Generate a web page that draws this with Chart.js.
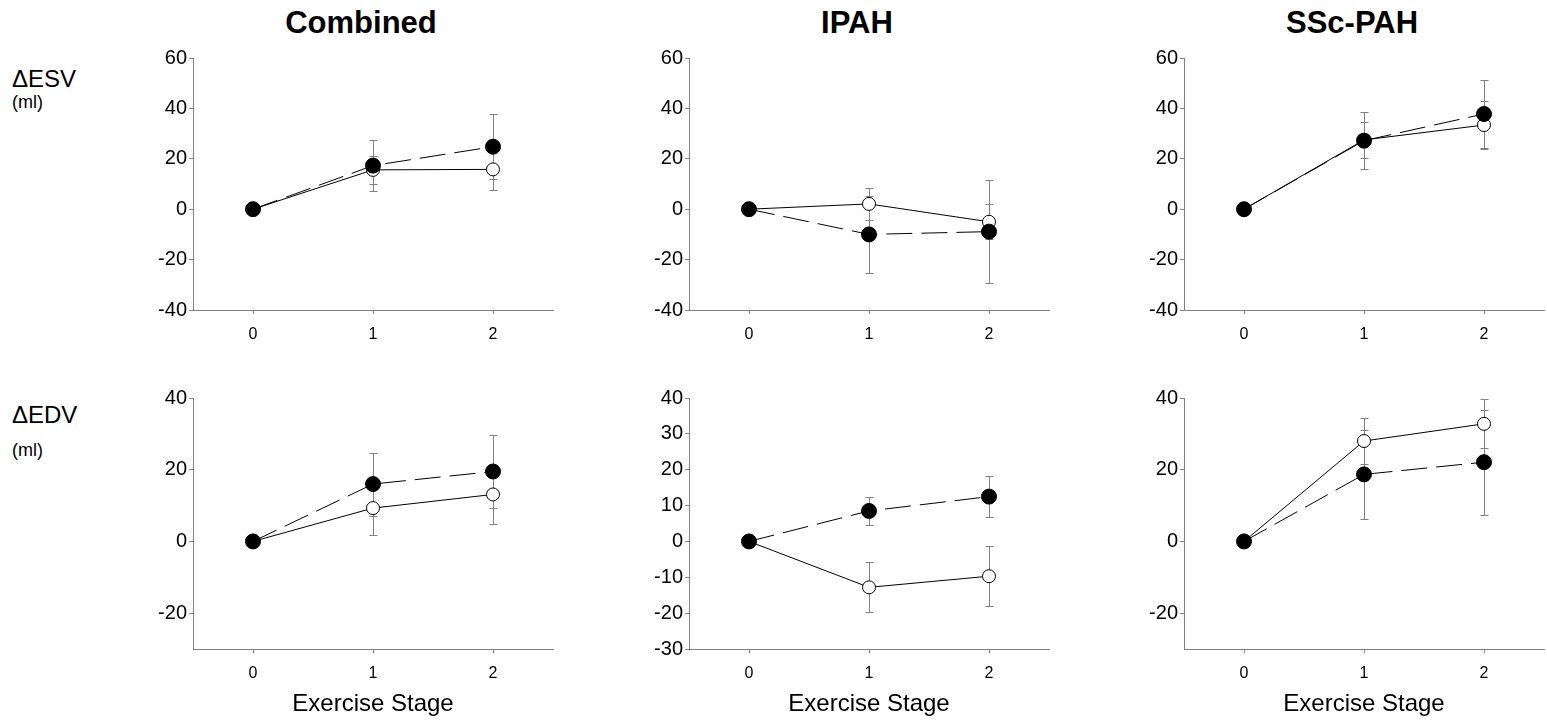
<!DOCTYPE html>
<html lang="en">
    <head>
        <meta charset="UTF-8">
        <title>ESV / EDV by exercise stage</title>
        <style>
            body { margin: 0; background: #fff; font-family: "Liberation Sans", Arial, sans-serif; }
            .pagina { position: relative; width: 1547px; height: 728px; overflow: hidden; }
            .titulo { position: absolute; top: 6px; font-weight: bold; font-size: 31px; line-height: 34px; transform: translateX(-50%); white-space: nowrap; }
            .rotulo { position: absolute; left: 12px; font-size: 24px; line-height: 26px; }
            .unidade { position: absolute; left: 12px; font-size: 18px; line-height: 20px; }
            canvas { position: absolute; }
        </style>
    </head>

    <body>
        <div class="pagina">
            <div class="titulo" style="left:361px">Combined</div>
            <div class="titulo" style="left:857px">IPAH</div>
            <div class="titulo" style="left:1352px">SSc-PAH</div>

            <div class="rotulo" style="top:66px">&Delta;ESV</div>
            <div class="unidade" style="top:92px">(ml)</div>
            <div class="rotulo" style="top:402px">&Delta;EDV</div>
            <div class="unidade" style="top:440px">(ml)</div>

            <canvas id="esvCombined" width="423" height="310" style="left:133px; top:40px"></canvas>
            <canvas id="esvIpah" width="423" height="310" style="left:629px; top:40px"></canvas>
            <canvas id="esvSsc" width="423" height="310" style="left:1124px; top:40px"></canvas>
            <canvas id="edvCombined" width="423" height="344" style="left:133px; top:380px"></canvas>
            <canvas id="edvIpah" width="423" height="344" style="left:629px; top:380px"></canvas>
            <canvas id="edvSsc" width="423" height="344" style="left:1124px; top:380px"></canvas>
        </div>

<script src="https://cdn.jsdelivr.net/npm/chart.js"></script>

<script>
    // exercise stages
    const stages = [0, 1, 2];

    // tick labels
    const esvTicks = [-40, -20, 0, 20, 40, 60];
    const edvTicks = [-20, 0, 20, 40];
    const edvIpahTicks = [-30, -20, -10, 0, 10, 20, 30, 40];

    // ESV (ml) - open circles (solid line) and filled circles (dashed line), with error bars
    const esvCombinedOpen = [0, 15.6, 15.8];
    const esvCombinedOpenErr = [0, 5.5, 8.0];
    const esvCombinedFilled = [0, 17.3, 24.8];
    const esvCombinedFilledErr = [0, 10.0, 12.8];

    const esvIpahOpen = [0, 2.1, -5.0];
    const esvIpahOpenErr = [0, 6.3, 7.0];
    const esvIpahFilled = [0, -10.0, -8.9];
    const esvIpahFilledErr = [0, 15.4, 20.5];

    const esvSscOpen = [0, 27.5, 33.4];
    const esvSscOpenErr = [0, 7.0, 9.5];
    const esvSscFilled = [0, 27.2, 37.8];
    const esvSscFilledErr = [0, 11.3, 13.5];

    // EDV (ml)
    const edvCombinedOpen = [0, 9.3, 13.1];
    const edvCombinedOpenErr = [0, 7.5, 8.1];
    const edvCombinedFilled = [0, 16.0, 19.5];
    const edvCombinedFilledErr = [0, 8.8, 10.2];

    const edvIpahOpen = [0, -12.8, -9.7];
    const edvIpahOpenErr = [0, 7.0, 8.3];
    const edvIpahFilled = [0, 8.5, 12.5];
    const edvIpahFilledErr = [0, 4.0, 5.8];

    const edvSscOpen = [0, 28.0, 32.8];
    const edvSscOpenErr = [0, 6.4, 6.8];
    const edvSscFilled = [0, 18.7, 22.1];
    const edvSscFilledErr = [0, 12.4, 14.6];

    const fonte = '"Liberation Sans", Arial, sans-serif';
    const cinza = '#808080';

    // barras de erro desenhadas antes dos pontos, para ficarem por baixo
    const errorBars = {
        id: 'errorBars',
        beforeDatasetsDraw(chart) {
            const ctx = chart.ctx;
            const xs = chart.scales.x;
            const ys = chart.scales.y;
            ctx.save();
            ctx.strokeStyle = cinza;
            ctx.lineWidth = 1;
            ctx.setLineDash([]);
            chart.data.datasets.forEach(ds => {
                ds.data.forEach((p, i) => {
                    const e = ds.errors[i];
                    if (!e) return;
                    const px = Math.round(xs.getPixelForValue(p.x)) + 0.5;
                    const top = Math.round(ys.getPixelForValue(p.y + e)) + 0.5;
                    const bot = Math.round(ys.getPixelForValue(p.y - e)) + 0.5;
                    ctx.beginPath();
                    ctx.moveTo(px, top);
                    ctx.lineTo(px, bot);
                    ctx.moveTo(px - 4, top);
                    ctx.lineTo(px + 4, top);
                    ctx.moveTo(px - 4, bot);
                    ctx.lineTo(px + 4, bot);
                    ctx.stroke();
                });
            });
            ctx.restore();
        }
    };

    function pontos(valores) {
        return stages.map((s, i) => ({ x: s, y: valores[i] }));
    }

    function plotarPainel(elementId, filled, filledErr, open, openErr, yMin, yMax, yTicks, comTitulo) {
        const ctx = document.getElementById(elementId).getContext('2d');
        const alturaX = comTitulo ? 75 : 40;

        new Chart(ctx, {
            type: 'line',
            data: {
                datasets: [
                    {
                        data: pontos(filled),
                        errors: filledErr,
                        borderColor: '#000',
                        borderWidth: 1,
                        borderDash: [26, 9],
                        pointRadius: 7.5,
                        pointBackgroundColor: '#000',
                        pointBorderColor: '#000',
                        pointBorderWidth: 1,
                        tension: 0
                    },
                    {
                        data: pontos(open),
                        errors: openErr,
                        borderColor: '#000',
                        borderWidth: 1,
                        pointRadius: 6.5,
                        pointBackgroundColor: '#fff',
                        pointBorderColor: '#000',
                        pointBorderWidth: 1,
                        tension: 0
                    }
                ]
            },
            options: {
                responsive: false,
                animation: false,
                events: [],
                layout: { autoPadding: false, padding: { top: 18, right: 3, left: 0, bottom: 0 } },
                plugins: { legend: { display: false }, tooltip: { enabled: false } },
                scales: {
                    x: {
                        type: 'linear',
                        min: -0.5,
                        max: 2.5,
                        afterBuildTicks: s => { s.ticks = stages.map(v => ({ value: v })); },
                        afterFit: s => { s.height = alturaX; s.paddingLeft = 0; s.paddingRight = 0; },
                        border: { color: cinza, width: 1 },
                        grid: { drawOnChartArea: false, tickLength: 4, color: cinza },
                        ticks: { color: '#000', padding: 11, font: { family: fonte, size: 16 } },
                        title: {
                            display: comTitulo,
                            text: 'Exercise Stage',
                            color: '#000',
                            padding: { top: 0, bottom: 5 },
                            font: { family: fonte, size: 24 }
                        }
                    },
                    y: {
                        min: yMin,
                        max: yMax,
                        afterBuildTicks: s => { s.ticks = yTicks.map(v => ({ value: v })); },
                        afterFit: s => { s.width = 60; s.paddingTop = 0; s.paddingBottom = 0; },
                        border: { color: cinza, width: 1 },
                        grid: { drawOnChartArea: false, tickLength: 4, color: cinza },
                        ticks: { color: '#000', padding: 2, font: { family: fonte, size: 20 } }
                    }
                }
            },
            plugins: [errorBars]
        });
    }

    plotarPainel('esvCombined', esvCombinedFilled, esvCombinedFilledErr, esvCombinedOpen, esvCombinedOpenErr, -40, 60, esvTicks, false);
    plotarPainel('esvIpah', esvIpahFilled, esvIpahFilledErr, esvIpahOpen, esvIpahOpenErr, -40, 60, esvTicks, false);
    plotarPainel('esvSsc', esvSscFilled, esvSscFilledErr, esvSscOpen, esvSscOpenErr, -40, 60, esvTicks, false);
    plotarPainel('edvCombined', edvCombinedFilled, edvCombinedFilledErr, edvCombinedOpen, edvCombinedOpenErr, -30, 40, edvTicks, true);
    plotarPainel('edvIpah', edvIpahFilled, edvIpahFilledErr, edvIpahOpen, edvIpahOpenErr, -30, 40, edvIpahTicks, true);
    plotarPainel('edvSsc', edvSscFilled, edvSscFilledErr, edvSscOpen, edvSscOpenErr, -30, 40, edvTicks, true);
</script>
    </body>
</html>
